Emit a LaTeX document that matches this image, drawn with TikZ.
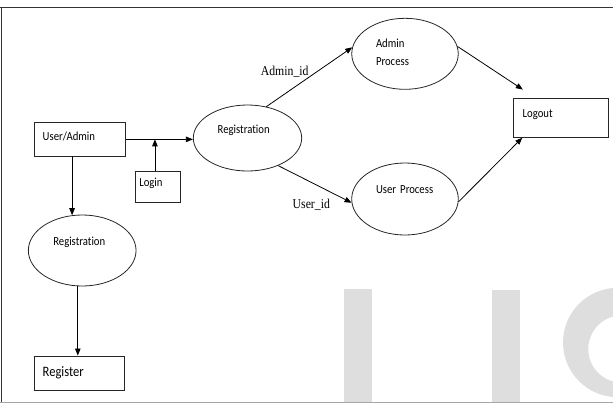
\documentclass[tikz,border=0pt]{standalone}
\usepackage{fontspec}
\setmainfont{Carlito}[FakeStretch=0.87,WordSpace=0.8,Ligatures=NoCommon]
\newfontfamily\timesf{Liberation Serif}[FakeStretch=0.87]
\usetikzlibrary{shapes.geometric,arrows.meta,calc}
\begin{document}
\begin{tikzpicture}[x=1pt,y=-1pt,
  box/.style={draw=black!85, line width=0.9pt, rectangle, inner ysep=0pt, align=left,
    font=\fontsize{12.3}{14}\selectfont},
  proc/.style={draw=black!85, line width=0.8pt, ellipse, inner sep=0pt, align=left,
    font=\fontsize{12.3}{18}\selectfont},
  arr/.style={draw=black, line width=0.8pt, -{Triangle[length=7pt,width=5.5pt]}},
  idlbl/.style={font=\timesf\fontsize{13.5}{15}\selectfont, inner sep=0pt},
  wm/.style={fill=black!13}]
\useasboundingbox (0,0) rectangle (613,405);
% watermark
\begin{scope}
\clip (0,0) rectangle (613,402);
\fill[wm] (344.3,289) rectangle (371.7,405);
\fill[wm] (492.3,290) rectangle (520,405);
\fill[wm, even odd rule] (617.7,342.5) circle[radius=54.7] (622,349) circle[radius=33.7];
\end{scope}
% frame
\draw[black!80, line width=1.3pt] (0,7.3) -- (613,7.3);
\draw[black!80, line width=1.2pt] (1.7,7.3) -- (1.7,403);
\draw[black!35, line width=1pt] (0,402.7) -- (613,402.7);
% nodes
\node[box, minimum height=33.3pt, inner xsep=8.4pt, text width=74.6pt, text height=8pt, text depth=6.5pt] (ua) at (80,139.35) {User/Admin};
\node[box, minimum height=31.3pt, inner xsep=4.3pt, text width=36.4pt, text height=8pt, text depth=7.9pt] (login) at (157.5,186.65) {Login};
\node[box, minimum height=39pt, inner xsep=9.4pt, text width=76.2pt, text height=8pt, text depth=8.9pt] (logout) at (560.8,117.8) {Logout};
\node[box, minimum height=34pt, inner xsep=8.4pt, text width=73.2pt, text height=9pt, text depth=2.1pt, font=\fontsize{14.4}{16}\selectfont] (register) at (79.3,373) {Register};
\node[proc, minimum width=108.4pt, minimum height=66pt, text width=59.6pt, text height=8pt, text depth=17.9pt] (reg) at (247.5,138) {Registration};
\node[proc, minimum width=106.5pt, minimum height=71pt, text width=58pt, text height=10pt, text depth=22.2pt] (admin) at (405,53.8) {Admin\\Process};
\node[proc, minimum width=106.6pt, minimum height=72pt, text width=58pt, text height=8pt, text depth=19.3pt] (user) at (405,199) {User Process};
\node[proc, minimum width=107.7pt, minimum height=71pt, text width=57.8pt, text height=8pt, text depth=17.5pt] (lreg) at (82.2,250.5) {Registration};
\node[idlbl] (aid) at (284.7,71.7) {Admin\_id};
\node[idlbl] (uid) at (311.3,205) {User\_id};
% connectors
\coordinate (lgtop) at ($(login.north west)!0.444!(login.north east)$);
\coordinate (lo1) at ($(logout.north west)+(10,-8.3)$);
\coordinate (lo2) at ($(logout.south west)+(9.4,0)$);
\draw[arr] (ua.east) -- (ua.east -| reg.west);
\draw[arr] (lgtop) -- (lgtop |- ua.east);
\draw[arr] (lreg.106 |- ua.south) -- (lreg.106);
\draw[arr] (lreg.-97) -- (lreg.-97 |- register.north);
\draw[arr] (reg.59) -- (admin.173);
\draw[arr] (reg.-42) -- (user.184);
\draw[arr] (admin.8) -- (lo1);
\draw[arr] (user.-3) -- (lo2);
\end{tikzpicture}
\end{document}
